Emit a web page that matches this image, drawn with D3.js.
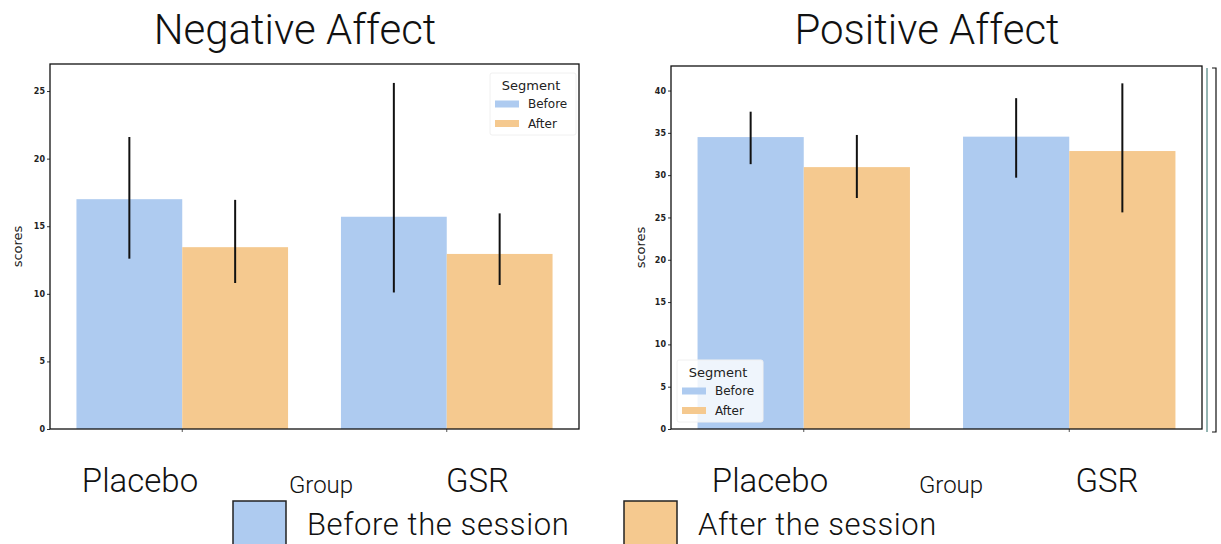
<!DOCTYPE html>
<html>
<head>
<meta charset="utf-8">
<script src="https://cdn.jsdelivr.net/npm/d3@7"></script>
<style>
  html, body { margin: 0; padding: 0; background: #fff; }
  svg { display: block; }
  .big { font-family: "Roboto Light", "Lato Light", "Open Sans Light", Roboto, "Liberation Sans", sans-serif; font-weight: 300; fill: #111; }
  .small { font-family: "DejaVu Sans", sans-serif; fill: #222; }
</style>
</head>
<body>
<svg id="chart" width="1221" height="544"></svg>
<script>
// Group and segment names
const groups = ["Placebo", "GSR"];
const segments = ["Before", "After"];
const legendLabels = ["Before the session", "After the session"];

// Negative affect: mean scores and error-bar ends per group
const negBefore   = [17.0, 15.7];
const negAfter    = [13.45, 12.95];
const negBeforeLo = [12.6, 10.1];
const negBeforeHi = [21.6, 25.6];
const negAfterLo  = [10.8, 10.65];
const negAfterHi  = [16.95, 15.95];
const negTicks    = [0, 5, 10, 15, 20, 25];

// Positive affect: mean scores and error-bar ends per group
const posBefore   = [34.5, 34.55];
const posAfter    = [30.95, 32.85];
const posBeforeLo = [31.3, 29.7];
const posBeforeHi = [37.5, 39.1];
const posAfterLo  = [27.3, 25.6];
const posAfterHi  = [34.75, 40.85];
const posTicks    = [0, 5, 10, 15, 20, 25, 30, 35, 40];

const colors = { Before: "#aecbf0", After: "#f5c98f" };

const svg = d3.select("#chart");

function panel(cfg) {
  const g = svg.append("g");
  const x = d3.scaleBand().domain(groups).range([cfg.x0, cfg.x1])
    .paddingInner(0.2).paddingOuter(0.1);
  const xs = d3.scaleBand().domain(segments).range([0, x.bandwidth()]);
  const y = d3.scaleLinear().domain([0, cfg.yMax]).range([cfg.y1, cfg.y0]);

  const rows = [];
  groups.forEach((grp, i) => {
    rows.push({ grp, seg: "Before", v: cfg.before[i], lo: cfg.beforeLo[i], hi: cfg.beforeHi[i] });
    rows.push({ grp, seg: "After", v: cfg.after[i], lo: cfg.afterLo[i], hi: cfg.afterHi[i] });
  });

  // bars
  g.selectAll("rect.bar").data(rows).join("rect")
    .attr("class", "bar")
    .attr("x", d => x(d.grp) + xs(d.seg))
    .attr("width", xs.bandwidth())
    .attr("y", d => y(d.v))
    .attr("height", d => y(0) - y(d.v))
    .attr("fill", d => colors[d.seg]);

  // error bars
  g.selectAll("line.err").data(rows).join("line")
    .attr("class", "err")
    .attr("x1", d => x(d.grp) + xs(d.seg) + xs.bandwidth() / 2)
    .attr("x2", d => x(d.grp) + xs(d.seg) + xs.bandwidth() / 2)
    .attr("y1", d => y(d.lo))
    .attr("y2", d => y(d.hi))
    .attr("stroke", "#111")
    .attr("stroke-width", 2);

  // y axis
  const ya = g.append("g").attr("transform", `translate(${cfg.x0},0)`)
    .call(d3.axisLeft(y).tickValues(cfg.ticks).tickSize(3).tickPadding(2));
  ya.select(".domain").remove();
  ya.selectAll("text").attr("class", "small").attr("font-size", 8)
    .attr("font-weight", "bold").attr("fill", "#333");
  ya.selectAll("line").attr("stroke", "#333");

  // x axis ticks at group centres
  const xa = g.append("g").attr("transform", `translate(0,${cfg.y1})`)
    .call(d3.axisBottom(x).tickSize(3).tickFormat(""));
  xa.select(".domain").remove();
  xa.selectAll("line").attr("stroke", "#555");

  // frame
  g.append("rect")
    .attr("x", cfg.x0).attr("y", cfg.y0)
    .attr("width", cfg.x1 - cfg.x0).attr("height", cfg.y1 - cfg.y0)
    .attr("fill", "none").attr("stroke", "#111").attr("stroke-width", 1.3);

  // y label
  g.append("text").attr("class", "small")
    .attr("transform", `translate(${cfg.ylabX},${(cfg.y0 + cfg.y1) / 2}) rotate(-90)`)
    .attr("text-anchor", "middle").attr("dominant-baseline", "central")
    .attr("font-size", 13).text("scores");

  // inner legend
  const L = cfg.legend;
  const lg = g.append("g");
  lg.append("rect").attr("x", L.x).attr("y", L.y).attr("width", L.w).attr("height", L.h)
    .attr("rx", 2).attr("fill", "#fff").attr("fill-opacity", 0.8)
    .attr("stroke", "#f0f0f0").attr("stroke-width", 1);
  lg.append("text").attr("class", "small").attr("x", L.x + L.w / 2 - 2).attr("y", L.y + 12)
    .attr("text-anchor", "middle").attr("dominant-baseline", "central")
    .attr("font-size", 13).text("Segment");
  segments.forEach((s, i) => {
    const cy = L.y + 31 + i * 19.5;
    lg.append("rect").attr("x", L.x + 5).attr("y", cy - 3.5).attr("width", 24).attr("height", 7)
      .attr("fill", colors[s]);
    lg.append("text").attr("class", "small").attr("x", L.x + 38).attr("y", cy)
      .attr("dominant-baseline", "central").attr("font-size", 12).text(s);
  });

  // title
  svg.append("text").attr("class", "big").attr("x", cfg.titleX).attr("y", 44)
    .attr("text-anchor", "middle").attr("font-size", 42).text(cfg.title);

  // group labels under the panel
  cfg.groupX.forEach((gx, i) => {
    svg.append("text").attr("class", "big").attr("x", gx).attr("y", 492)
      .attr("text-anchor", "middle").attr("font-size", 33).text(groups[i]);
  });
  svg.append("text").attr("class", "big").attr("x", cfg.groupLabelX).attr("y", 493)
    .attr("text-anchor", "middle").attr("font-size", 24).text("Group");
}

panel({
  title: "Negative Affect", titleX: 295,
  x0: 50, x1: 579, y0: 64, y1: 429, yMax: 27, ticks: negTicks,
  before: negBefore, after: negAfter,
  beforeLo: negBeforeLo, beforeHi: negBeforeHi, afterLo: negAfterLo, afterHi: negAfterHi,
  ylabX: 17, legend: { x: 490, y: 73, w: 86, h: 62 },
  groupX: [140, 477.5], groupLabelX: 321
});

panel({
  title: "Positive Affect", titleX: 927,
  x0: 671, x1: 1202, y0: 66, y1: 429, yMax: 42.9, ticks: posTicks,
  before: posBefore, after: posAfter,
  beforeLo: posBeforeLo, beforeHi: posBeforeHi, afterLo: posAfterLo, afterHi: posAfterHi,
  ylabX: 640, legend: { x: 677, y: 360, w: 86, h: 62 },
  groupX: [770, 1107], groupLabelX: 951
});

// outer bracket lines at the right edge of the right panel
svg.append("line").attr("x1", 1207).attr("x2", 1207).attr("y1", 68).attr("y2", 432)
  .attr("stroke", "#2a6b66").attr("stroke-width", 1);
svg.append("path").attr("d", "M1212,68 H1216 V432 H1212")
  .attr("fill", "none").attr("stroke", "#111").attr("stroke-width", 1.2);

// bottom legend
const legendX = [233, 624];
segments.forEach((s, i) => {
  svg.append("rect").attr("x", legendX[i]).attr("y", 501).attr("width", 53).attr("height", 46)
    .attr("fill", colors[s]).attr("stroke", "#222").attr("stroke-width", 1.5);
  svg.append("text").attr("class", "big").attr("x", legendX[i] + 74).attr("y", 535)
    .attr("font-size", 31).attr("letter-spacing", 0.6).text(legendLabels[i]);
});
</script>
</body>
</html>
